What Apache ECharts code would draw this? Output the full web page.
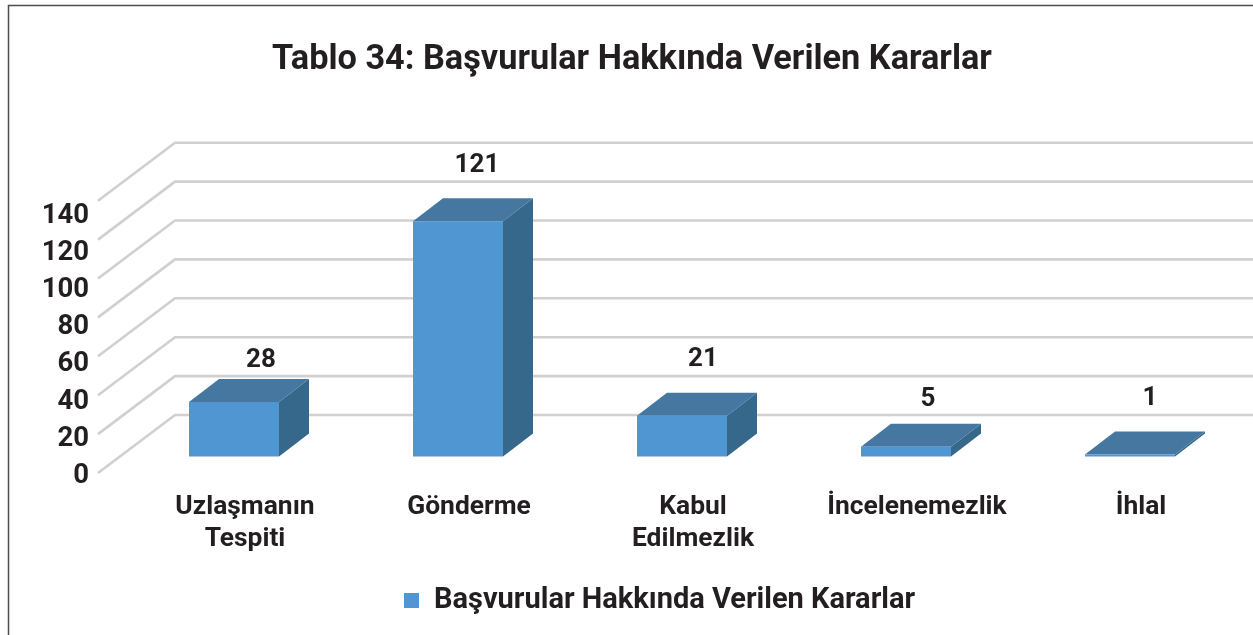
<!DOCTYPE html>
<html lang="tr">
<head>
<meta charset="UTF-8">
<script src="https://cdn.jsdelivr.net/npm/echarts@6/dist/echarts.min.js"></script>
<title>Tablo 34</title>
<style>
  *{margin:0;padding:0}
  html,body{width:100%;height:100%;background:#fff}
  #main{width:1253px;height:635px}
</style>
</head>
<body>
<div id="main"></div>
<script type="text/javascript">
var titleText = 'Tablo 34: Başvurular Hakkında Verilen Kararlar';
var seriesName = 'Başvurular Hakkında Verilen Kararlar';
var categories = ['Uzlaşmanın\nTespiti', 'Gönderme', 'Kabul\nEdilmezlik', 'İncelenemezlik', 'İhlal'];
var barValues = [28, 121, 21, 5, 1];
var yTicks = [0, 20, 40, 60, 80, 100, 120, 140];

var font = 'Roboto';
var textColor = '#231f20';

// 3d look: floor depth of the walls, bar depth, and how far bars stand in from the front
var wallDepth = [77, -58];
var barDepth = [30, -23];
var barInset = [24, -16.5];
var barWidth = 90;
// data labels sit a bit off in the picture, [x, y] from the bar's back top centre
var labelShift = [[12, -19], [4, -33], [6, -33], [7, -24], [5, -33]];

var myChart = echarts.init(document.getElementById('main'));

function renderWall(params, api) {
    var rect = params.coordSys;
    var p = api.coord([0, api.value(0)]);
    var y = p[1];
    return {
        type: 'polyline',
        shape: {points: [
            [rect.x, y],
            [rect.x + wallDepth[0], y + wallDepth[1]],
            [api.getWidth(), y + wallDepth[1]]
        ]},
        style: {stroke: '#cfd0cf', lineWidth: 2.6, fill: null}
    };
}

function renderBar(params, api) {
    var i = api.value(0);
    var c = api.coord([i, api.value(1)]);
    var b = api.coord([i, 0]);
    var x0 = c[0] + barInset[0] - barWidth / 2;
    var x1 = x0 + barWidth;
    var top = c[1] + barInset[1];
    var bot = b[1] + barInset[1];
    var dx = barDepth[0], dy = barDepth[1];
    var shift = labelShift[i];
    return {
        type: 'group',
        children: [
            {type: 'polygon', shape: {points: [[x1, top], [x1 + dx, top + dy], [x1 + dx, bot + dy], [x1, bot]]},
                style: {fill: '#35688a'}},
            {type: 'polygon', shape: {points: [[x0, top], [x0 + dx, top + dy], [x1 + dx, top + dy], [x1, top]]},
                style: {fill: '#4577a1'}},
            {type: 'rect', shape: {x: x0, y: top, width: barWidth, height: bot - top},
                style: {fill: '#5096d2'}},
            {type: 'text', x: (x0 + x1) / 2 + dx + shift[0] - 15, y: top + dy + shift[1],
                style: {text: String(api.value(1)), font: 'bold 26px ' + font, fill: textColor,
                    align: 'center', verticalAlign: 'middle'}}
        ]
    };
}

var option = {
    animation: false,
    backgroundColor: '#fff',
    title: {
        text: titleText,
        left: 627,
        top: 38,
        textAlign: 'center',
        textStyle: {fontFamily: font, fontWeight: 'bold', fontSize: 34.3, color: textColor}
    },
    legend: {
        data: [seriesName],
        left: 399,
        top: 581,
        icon: 'rect',
        itemWidth: 15,
        itemHeight: 15,
        selectedMode: false,
        textStyle: {fontFamily: font, fontWeight: 'bold', fontSize: 29, color: textColor, padding: [0, 0, 0, 10]}
    },
    // grid 0 only carries the tick labels, grid 1 is the front plane of the 3d plot
    grid: [
        {left: 133, width: 1120, top: 215.7, height: 260.3},
        {left: 98, width: 1120, top: 200.7, height: 272.3}
    ],
    xAxis: [
        {
            type: 'category', gridIndex: 0, data: categories,
            axisLine: {show: false}, axisTick: {show: false},
            axisLabel: {interval: 0, margin: 15, lineHeight: 32, fontFamily: font, fontWeight: 'bold',
                fontSize: 26.4, color: textColor}
        },
        {type: 'category', gridIndex: 1, data: categories, show: false}
    ],
    yAxis: [
        {
            type: 'value', gridIndex: 0, min: 0, max: 140, interval: 20,
            axisLine: {show: false}, axisTick: {show: false}, splitLine: {show: false},
            axisLabel: {margin: 44, fontFamily: font, fontWeight: 'bold', fontSize: 27.5, color: textColor}
        },
        {type: 'value', gridIndex: 1, min: 0, max: 140, interval: 20, show: false}
    ],
    series: [
        {
            type: 'custom', name: 'walls', xAxisIndex: 1, yAxisIndex: 1, z: 1,
            renderItem: renderWall,
            encode: {y: 0},
            data: yTicks.map(function (t) { return [t]; })
        },
        {
            type: 'custom', name: seriesName, xAxisIndex: 1, yAxisIndex: 1, z: 3,
            renderItem: renderBar,
            itemStyle: {color: '#5096d2'},
            encode: {x: 0, y: 1},
            data: barValues.map(function (v, i) { return [i, v]; })
        }
    ],
    graphic: [
        {type: 'polyline', silent: true, z: 10,
            shape: {points: [[8.5, 640], [8.5, 5.5], [1260, 5.5]]},
            style: {stroke: '#4d4d4f', lineWidth: 1.5, fill: null}}
    ]
};
myChart.setOption(option);
</script>
</body>
</html>
